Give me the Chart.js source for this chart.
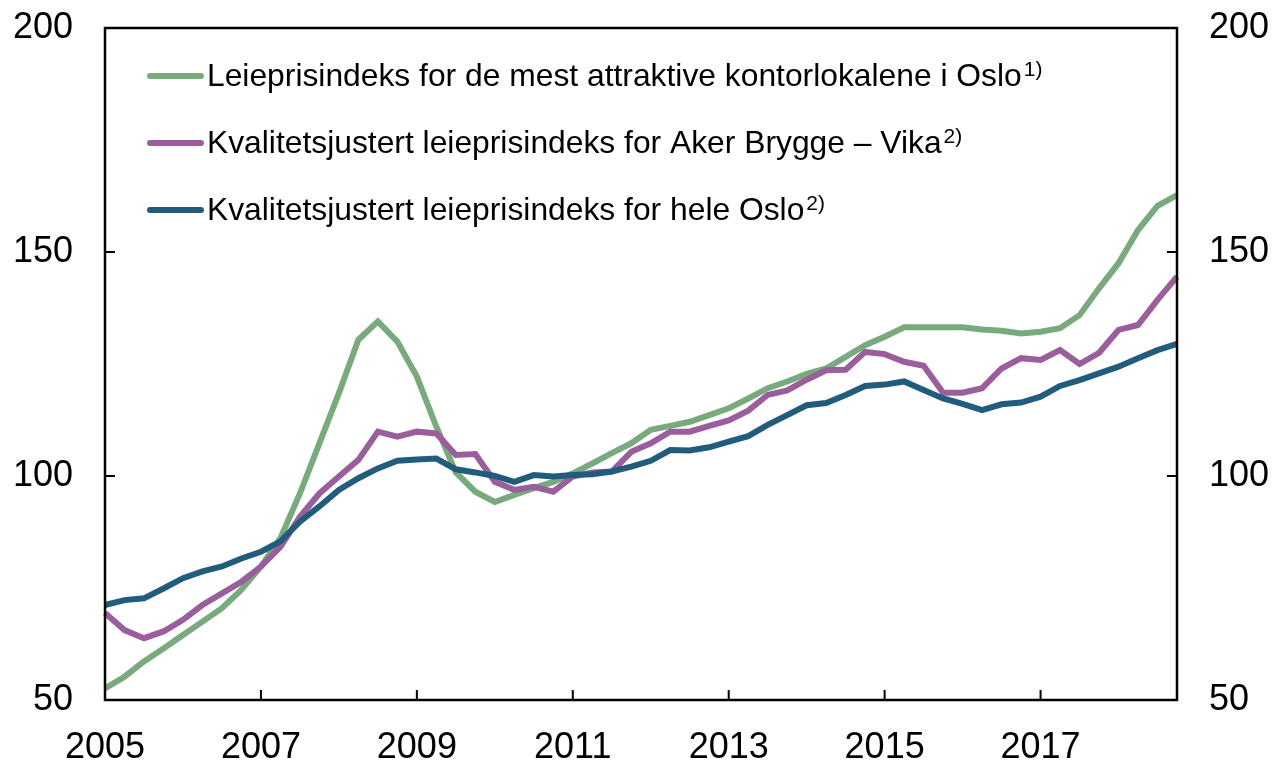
<!DOCTYPE html>
<html>
<head>
<meta charset="utf-8">
<script src="https://cdn.jsdelivr.net/npm/chart.js@4.4.0/dist/chart.umd.min.js"></script>
<style>
    html, body { margin: 0; padding: 0; background: #ffffff; }
    #wrap { width: 1278px; height: 761px; position: relative; }
</style>
</head>
<body>
<div id="wrap"><canvas id="rentChart"></canvas></div>
<script>
// Quarters 2005K1 - 2018K4
const years = [2005, 2006, 2007, 2008, 2009, 2010, 2011, 2012, 2013, 2014, 2015, 2016, 2017, 2018];
const quarterNames = ['K1', 'K2', 'K3', 'K4'];
const tickYears = ['2005', '2007', '2009', '2011', '2013', '2015', '2017'];
const yTicks = [50, 100, 150, 200];

const legendLabels = [
    'Leieprisindeks for de mest attraktive kontorlokalene i Oslo',
    'Kvalitetsjustert leieprisindeks for Aker Brygge \u2013 Vika',
    'Kvalitetsjustert leieprisindeks for hele Oslo'
];
const legendNotes = ['1)', '2)', '2)'];

const attraktive = [
    52.6, 55.2, 58.6, 61.5, 64.5, 67.5, 70.5, 74.6,
    79.8, 86.1, 96.1, 107.3, 118.5, 130.4, 134.5, 130.0,
    122.2, 111.0, 100.8, 96.5, 94.2, 95.8, 97.3, 98.7,
    100.6, 102.8, 105.1, 107.3, 110.3, 111.2, 112.1, 113.6,
    115.1, 117.3, 119.6, 121.1, 122.8, 124.0, 126.6, 129.2,
    131.1, 133.2, 133.2, 133.2, 133.2, 132.7, 132.4, 131.8,
    132.2, 133.0, 135.9, 141.9, 147.5, 154.9, 160.3, 162.7
];
const akerBrygge = [
    69.4, 65.6, 63.8, 65.3, 67.9, 71.2, 73.8, 76.4,
    79.8, 84.2, 90.9, 96.1, 99.9, 103.6, 109.9, 108.8,
    109.9, 109.5, 104.7, 104.9, 98.7, 96.9, 97.6, 96.5,
    99.9, 100.8, 101.0, 105.4, 107.3, 109.9, 109.9, 111.2,
    112.4, 114.6, 118.1, 119.1, 121.5, 123.6, 123.7, 127.7,
    127.2, 125.5, 124.6, 118.6, 118.6, 119.6, 124.0, 126.3,
    125.9, 128.1, 125.0, 127.5, 132.6, 133.7, 139.3, 144.5
];
const heleOslo = [
    71.2, 72.3, 72.7, 74.9, 77.2, 78.7, 79.8, 81.6,
    83.1, 85.4, 89.8, 93.2, 96.9, 99.5, 101.7, 103.4,
    103.7, 103.9, 101.5, 100.8, 100.0, 98.7, 100.2, 99.9,
    100.2, 100.4, 101.0, 102.1, 103.4, 105.8, 105.7, 106.4,
    107.7, 108.9, 111.4, 113.6, 115.8, 116.3, 118.1, 120.1,
    120.4, 121.1, 119.2, 117.3, 116.1, 114.7, 116.0, 116.4,
    117.7, 120.1, 121.4, 122.9, 124.4, 126.3, 128.1, 129.5
];

const colors = {
    green: '#78aa7d',
    purple: '#9a5e9c',
    blue: '#225c7c',
    axis: '#000000'
};
const FONT = '"Liberation Sans", Arial, sans-serif';

const labels = [];
years.forEach(y => quarterNames.forEach(q => labels.push(y + q)));

// frame, inward tick marks and the legend inside the plot
const framePlugin = {
    id: 'frame',
    afterDraw(chart) {
        const { ctx, chartArea: a, scales } = chart;
        ctx.save();
        ctx.strokeStyle = colors.axis;
        ctx.lineWidth = 2.5;
        ctx.strokeRect(a.left, a.top, a.right - a.left, a.bottom - a.top);

        ctx.lineWidth = 2;
        ctx.beginPath();
        tickYears.forEach(y => {
            const x = scales.x.getPixelForValue(labels.indexOf(y + 'K1'));
            ctx.moveTo(x, a.bottom);
            ctx.lineTo(x, a.bottom - 10);
        });
        [100, 150].forEach(v => {
            const yl = scales.y.getPixelForValue(v);
            ctx.moveTo(a.left, yl);
            ctx.lineTo(a.left + 10, yl);
            const yr = scales.y2.getPixelForValue(v);
            ctx.moveTo(a.right, yr);
            ctx.lineTo(a.right - 10, yr);
        });
        ctx.stroke();

        // legend
        const rows = [76, 143, 210];
        chart.data.datasets.forEach((ds, i) => {
            const y = rows[i];
            ctx.strokeStyle = ds.borderColor;
            ctx.lineWidth = 6;
            ctx.lineCap = 'round';
            ctx.beginPath();
            ctx.moveTo(a.left + 45, y);
            ctx.lineTo(a.left + 96, y);
            ctx.stroke();

            ctx.fillStyle = '#000';
            ctx.textBaseline = 'middle';
            ctx.textAlign = 'left';
            ctx.font = '31.8px ' + FONT;
            const tx = a.left + 102;
            ctx.fillText(legendLabels[i], tx, y + 1);
            const w = ctx.measureText(legendLabels[i]).width;
            ctx.font = '21px ' + FONT;
            ctx.fillText(legendNotes[i], tx + w + 2, y - 6);
        });
        ctx.restore();
    }
};

const yAxis = (position, width) => ({
    position: position,
    min: 50,
    max: 200,
    afterFit: s => { s.width = width; s.paddingTop = 0; s.paddingBottom = 0; },
    afterBuildTicks: s => { s.ticks = yTicks.map(v => ({ value: v })); },
    grid: { display: false, drawTicks: false },
    border: { display: false },
    ticks: {
        padding: 32,
        color: '#000',
        font: { family: FONT, size: 36 }
    }
});

new Chart(document.getElementById('rentChart'), {
    type: 'line',
    data: {
        labels: labels,
        datasets: [
            { label: legendLabels[0], data: attraktive, borderColor: colors.green, order: 3 },
            { label: legendLabels[1], data: akerBrygge, borderColor: colors.purple, order: 2 },
            { label: legendLabels[2], data: heleOslo, borderColor: colors.blue, order: 1 }
        ]
    },
    options: {
        responsive: true,
        maintainAspectRatio: false,
        animation: false,
        layout: { padding: { top: 28, left: 0, right: 0, bottom: 0 } },
        elements: {
            line: { borderWidth: 6, tension: 0, fill: false },
            point: { radius: 0 }
        },
        plugins: {
            legend: { display: false },
            tooltip: { enabled: false }
        },
        scales: {
            x: {
                type: 'category',
                offset: false,
                afterFit: s => { s.height = 61; s.paddingLeft = 0; s.paddingRight = 0; },
                grid: { display: false, drawTicks: false },
                border: { display: false },
                ticks: {
                    autoSkip: false,
                    maxRotation: 0,
                    padding: 26,
                    color: '#000',
                    font: { family: FONT, size: 36 },
                    callback: function (value) {
                        const lab = this.getLabelForValue(value);
                        return lab.endsWith('K1') && tickYears.includes(lab.slice(0, 4)) ? lab.slice(0, 4) : '';
                    }
                }
            },
            y: yAxis('left', 105),
            y2: yAxis('right', 101)
        }
    },
    plugins: [framePlugin]
});
</script>
</body>
</html>
